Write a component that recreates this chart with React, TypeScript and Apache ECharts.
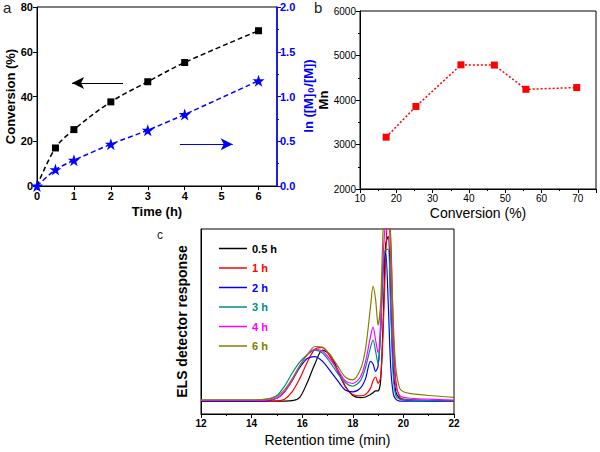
import React, { useEffect, useRef } from 'react';
import * as echarts from 'echarts';

// Panel a
const timeA = [0, 0.5, 1, 2, 3, 4, 6];
const conversion = [0, 17.0, 25.2, 37.6, 46.6, 55.2, 69.4];
const lnRatio = [0, 0.183, 0.288, 0.467, 0.623, 0.799, 1.176];

// Panel b
const convB = [17.2, 25.4, 37.8, 47.0, 55.7, 69.7];
const mnB = [3165, 3855, 4790, 4785, 4240, 4280];

// Panel c
const legendNames = ['0.5 h', '1 h', '2 h', '3 h', '4 h', '6 h'];
const legendColors = ['#000000', '#ff0000', '#0000ff', '#008b8b', '#ff00ff', '#808000'];
const retTime = [12, 14, 14.6, 15, 15.3, 15.6, 15.9, 16.2, 16.5, 16.8, 17.1, 17.4, 17.7, 18.0, 18.3, 18.5, 18.7, 18.8, 18.9, 19.0, 19.1, 19.2, 19.3, 19.4, 19.5, 19.6, 19.7, 19.85, 20.0, 20.3, 21, 22];
const trace05 = [7, 7, 7, 7, 7, 7.2, 9, 17, 27, 34.5, 32, 24, 15, 10, 8.8, 9.2, 10.5, 11.5, 12.5, 12.5, 18, 50, 92, 96, 60, 25, 12, 8.5, 7.8, 7.5, 7.2, 7];
const trace1 = [7, 7, 7, 7.1, 8, 12, 19, 28, 35, 36, 31, 23, 15, 10.5, 9.8, 10.5, 14, 18, 20, 16.5, 20, 45, 85, 110, 95, 45, 18, 9, 8, 7.6, 7.3, 7];
const trace2 = [7, 7, 7.2, 8.5, 12, 18, 25, 30, 31, 28.5, 23.5, 18, 13, 12, 14, 19, 28.5, 27, 23, 26, 45, 78, 87, 60, 25, 11, 8, 7, 7, 7, 7, 7];
const trace3 = [7.5, 7.5, 8, 10, 15, 22, 28, 32, 34.5, 33, 28, 22, 17, 15, 18, 25, 36, 40, 34, 27, 45, 80, 89, 89, 55, 20, 10, 8, 7.8, 7.5, 7.3, 7];
const trace4 = [7.3, 7.3, 7.5, 8.5, 12, 18, 26, 32, 35, 34, 29.5, 24, 18, 16.5, 20, 28, 42, 47, 40, 33, 50, 85, 105, 110, 80, 35, 15, 10, 9, 8.5, 8, 7.5];
const trace6 = [7.6, 7.6, 8, 9.5, 13, 19, 26, 32, 36.5, 36, 32, 26, 20, 18.5, 24, 35, 58, 69, 62, 48, 60, 100, 115, 115, 90, 50, 25, 14, 12, 11, 10, 9];
const traces = [trace05, trace1, trace2, trace3, trace4, trace6];

const FONT = 'Liberation Sans, Arial, sans-serif';
const STAR = 'path://M50,0 L61.8,35.1 L98.9,35.1 L69.1,56.7 L80.9,91.9 L50,70.2 L19.1,91.9 L30.9,56.7 L1.1,35.1 L38.2,35.1 Z';

function buildOption(): any {
  const blackAxis = { lineStyle: { color: '#000', width: 1 } };
  const tickOut = { show: true, inside: false, length: 4, lineStyle: { color: '#000' } };
  const minorOut = { show: true, splitNumber: 2, length: 2, lineStyle: { color: '#000' } };

  const convData = timeA.map((t, i) => (i === 0 ? { value: [t, conversion[i]], symbol: 'none' } : [t, conversion[i]]));
  const lnData = timeA.map((t, i) => [t, lnRatio[i]]);

  const series: any[] = [
    {
      type: 'line', xAxisIndex: 0, yAxisIndex: 0, data: convData, smooth: 0.35,
      symbol: 'rect', symbolSize: 7, itemStyle: { color: '#000' },
      lineStyle: { color: '#000', width: 1.5, type: [5, 3] },
      markLine: {
        silent: true, symbol: ['none', 'arrow'], symbolSize: [9, 12], label: { show: false },
        lineStyle: { color: '#000', width: 1.2, type: 'solid' },
        data: [[{ coord: [2.33, 46] }, { coord: [0.95, 46] }]],
      },
    },
    {
      type: 'line', xAxisIndex: 0, yAxisIndex: 1, data: lnData, smooth: 0.2,
      symbol: STAR, symbolSize: 12, itemStyle: { color: '#0000ff' },
      lineStyle: { color: '#0000ff', width: 1.5, type: [5, 3] },
      markLine: {
        silent: true, symbol: ['none', 'arrow'], symbolSize: [9, 12], label: { show: false },
        lineStyle: { color: '#0000ff', width: 1.2, type: 'solid' },
        data: [[{ coord: [3.87, 0.467] }, { coord: [5.3, 0.467] }]],
      },
    },
    {
      type: 'line', xAxisIndex: 1, yAxisIndex: 2, data: convB.map((c, i) => [c, mnB[i]]),
      symbol: 'rect', symbolSize: 7, itemStyle: { color: '#ff0000' },
      lineStyle: { color: '#ff0000', width: 1.5, type: [2, 2] },
    },
  ];
  traces.forEach((tr, k) => {
    series.push({
      type: 'line', name: legendNames[k], xAxisIndex: 2, yAxisIndex: 3,
      data: retTime.map((t, i) => [t, tr[i]]), smooth: 0.3, symbol: 'none', clip: true,
      lineStyle: { color: legendColors[k], width: 1.2 }, itemStyle: { color: legendColors[k] },
    });
  });

  return {
    animation: false,
    backgroundColor: '#fff',
    textStyle: { fontFamily: FONT },
    grid: [
      { left: 37, top: 7, width: 240, height: 179, show: true, borderColor: '#000', borderWidth: 1, backgroundColor: 'transparent' },
      { left: 360, top: 11, width: 236, height: 178, show: true, borderColor: '#000', borderWidth: 1, backgroundColor: 'transparent' },
      { left: 201, top: 229, width: 253, height: 185, show: true, borderColor: '#000', borderWidth: 1, backgroundColor: 'transparent' },
    ],
    xAxis: [
      {
        gridIndex: 0, type: 'value', min: 0, max: 6.5, interval: 1,
        axisLine: blackAxis, axisTick: tickOut, splitLine: { show: false },
        axisLabel: { color: '#000', fontWeight: 'bold', fontSize: 11, fontFamily: FONT, margin: 4, showMaxLabel: false },
        name: 'Time (h)', nameLocation: 'middle', nameGap: 19,
        nameTextStyle: { color: '#000', fontWeight: 'bold', fontSize: 13, fontFamily: FONT },
      },
      {
        gridIndex: 1, type: 'value', min: 10, max: 75, interval: 10,
        axisLine: blackAxis, axisTick: tickOut, minorTick: minorOut, splitLine: { show: false },
        axisLabel: { color: '#000', fontSize: 10, fontFamily: FONT, margin: 4, showMaxLabel: false },
        name: 'Conversion (%)', nameLocation: 'middle', nameGap: 17,
        nameTextStyle: { color: '#000', fontSize: 14, fontFamily: FONT },
      },
      {
        gridIndex: 2, type: 'value', min: 12, max: 22, interval: 2,
        axisLine: blackAxis, axisTick: tickOut, minorTick: minorOut, splitLine: { show: false },
        axisLabel: { color: '#000', fontWeight: 'bold', fontSize: 10, fontFamily: FONT, margin: 4 },
        name: 'Retention time (min)', nameLocation: 'middle', nameGap: 19,
        nameTextStyle: { color: '#000', fontSize: 14, fontFamily: FONT },
      },
    ],
    yAxis: [
      {
        gridIndex: 0, type: 'value', min: 0, max: 80, interval: 20,
        axisLine: blackAxis, axisTick: tickOut, splitLine: { show: false },
        axisLabel: { color: '#000', fontWeight: 'bold', fontSize: 11, fontFamily: FONT, margin: 4 },
        name: 'Conversion (%)', nameLocation: 'middle', nameGap: 17,
        nameTextStyle: { color: '#000', fontWeight: 'bold', fontSize: 13, fontFamily: FONT },
      },
      {
        gridIndex: 0, type: 'value', position: 'right', min: 0, max: 2, interval: 0.5,
        axisLine: { show: true, lineStyle: { color: '#0000ff', width: 1.5 } },
        axisTick: { show: true, length: 4, lineStyle: { color: '#0000ff' } },
        minorTick: { show: true, splitNumber: 2, length: 2, lineStyle: { color: '#0000ff' } },
        splitLine: { show: false },
        axisLabel: { color: '#0000ff', fontWeight: 'bold', fontSize: 11, fontFamily: FONT, margin: 3, formatter: (v: number) => v.toFixed(1) },
      },
      {
        gridIndex: 1, type: 'value', min: 2000, max: 6000, interval: 1000,
        axisLine: blackAxis, axisTick: tickOut, minorTick: minorOut, splitLine: { show: false },
        axisLabel: { color: '#000', fontSize: 10, fontFamily: FONT, margin: 4, formatter: (v: number) => String(v) },
        name: 'Mn', nameLocation: 'middle', nameGap: 29,
        nameTextStyle: { color: '#000', fontWeight: 'bold', fontSize: 13, fontFamily: FONT },
      },
      {
        gridIndex: 2, type: 'value', min: 0, max: 100,
        axisLine: blackAxis, axisTick: { show: false }, axisLabel: { show: false }, splitLine: { show: false },
        name: 'ELS detector response', nameLocation: 'middle', nameGap: 12,
        nameTextStyle: { color: '#000', fontWeight: 'bold', fontSize: 14, fontFamily: FONT },
      },
    ],
    legend: {
      orient: 'vertical', left: 214, top: 238, itemWidth: 28, itemHeight: 10, itemGap: 8.5,
      icon: 'path://M0,5 L28,5 L28,6.5 L0,6.5 Z',
      textStyle: { fontWeight: 'bold', fontSize: 11, fontFamily: FONT },
      data: legendNames.map((n, k) => ({ name: n, textStyle: { color: legendColors[k] } })),
      selectedMode: false,
    },
    graphic: [
      { type: 'text', left: 3, top: 0, style: { text: 'a', fontSize: 15, fontFamily: FONT, fill: '#222' } },
      { type: 'text', left: 314, top: 0, style: { text: 'b', fontSize: 15, fontFamily: FONT, fill: '#222' } },
      { type: 'text', left: 157, top: 229, style: { text: 'c', fontSize: 12, fontFamily: FONT, fill: '#222' } },
      {
        type: 'text', x: 308, y: 96, rotation: Math.PI / 2,
        style: {
          text: 'ln ([M]{sub|0}/[M])', align: 'center', verticalAlign: 'middle',
          fill: '#0000ff', fontWeight: 'bold', fontSize: 13, fontFamily: FONT,
          rich: { sub: { fontSize: 9, fontWeight: 'bold', fill: '#0000ff', fontFamily: FONT, padding: [5, 1, 0, 1] } },
        },
      },
    ],
    series,
  };
}

export default function App() {
  const ref = useRef<HTMLDivElement>(null);
  useEffect(() => {
    document.body.style.margin = '0';
    const chart = echarts.init(ref.current!, null, { renderer: 'svg' });
    chart.setOption(buildOption());
    return () => chart.dispose();
  }, []);
  return <div ref={ref} style={{ width: 600, height: 452 }} />;
}
